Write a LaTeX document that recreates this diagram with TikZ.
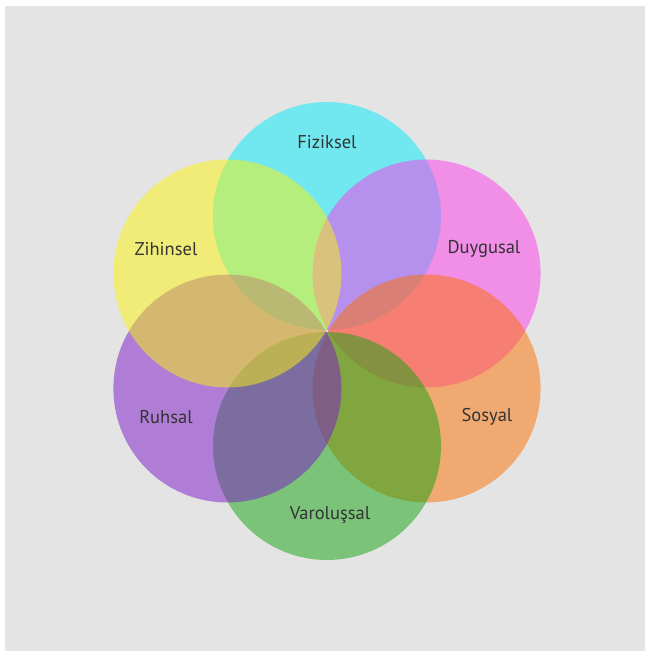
\documentclass[tikz,border=0pt]{standalone}
\usepackage{fontspec}
\setmainfont{PT Sans}
\usepackage{tikz}
\usetikzlibrary{positioning}

\definecolor{bgGray}{HTML}{E4E4E4}
\definecolor{cFiz}{RGB}{0,236,252}
\definecolor{cDuy}{RGB}{252,58,236}
\definecolor{cSos}{RGB}{252,112,0}
\definecolor{cVar}{RGB}{20,164,16}
\definecolor{cRuh}{RGB}{124,24,200}
\definecolor{cZih}{RGB}{252,244,12}
\definecolor{txtGray}{HTML}{333333}

\begin{document}
\begin{tikzpicture}[
  x=1pt, y=1pt,
  petal/.style = {fill opacity=0.5},
  lbl/.style   = {font=\fontsize{18.5}{22}\selectfont, text=txtGray, inner sep=0pt},
]

%% ---- canvas --------------------------------------------------------------
\useasboundingbox (-327,331) rectangle (318,-320);
\fill[bgGray] (-322,325) rectangle (318,-320);

%% ---- petals --------------------------------------------------------------
\foreach \ang/\col in {90/cFiz, 30/cDuy, -30/cSos, -90/cVar, -150/cRuh, 150/cZih}
  \fill[petal, \col] (\ang:115) circle[radius=114];

%% ---- labels --------------------------------------------------------------
\node[lbl] (fiziksel)   at (0,189)     {Fiziksel};
\node[lbl] (duygusal)   at (157,82)    {Duygusal};
\node[lbl] (sosyal)     at (160,-86)   {Sosyal};
\node[lbl] (varolussal) at (3,-184)    {Varoluşsal};
\node[lbl] (ruhsal)     at (-161,-86)  {Ruhsal};
\node[lbl] (zihinsel)   at (-161,82)   {Zihinsel};

\end{tikzpicture}
\end{document}
